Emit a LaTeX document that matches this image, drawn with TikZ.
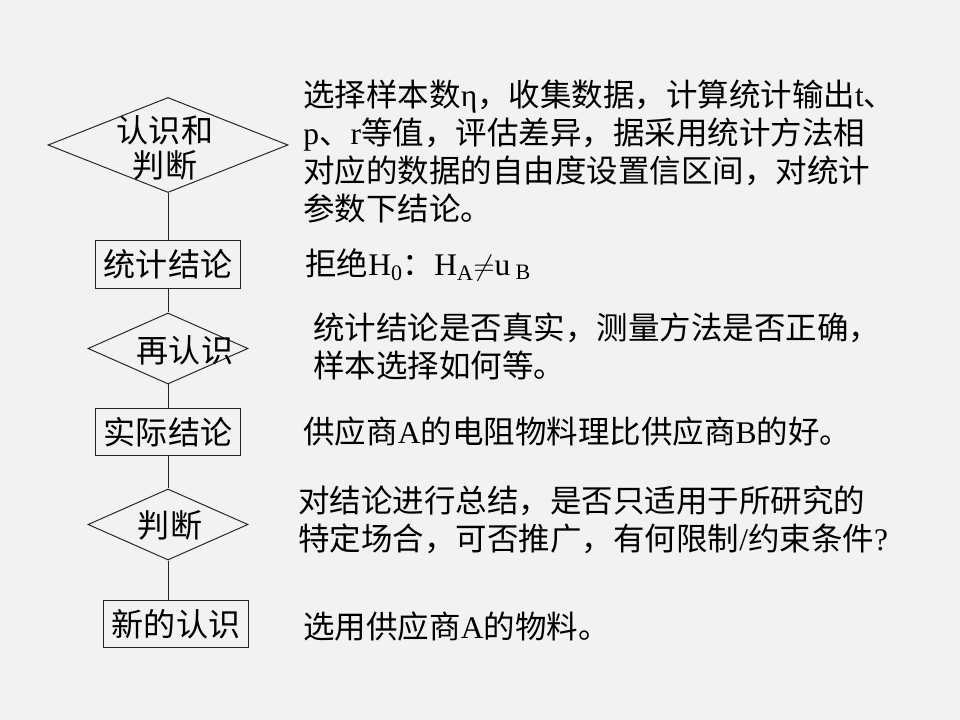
\documentclass[tikz,border=0pt]{standalone}
\usepackage{xcolor}
\usepackage{fontspec}
\setmainfont{Liberation Serif}
\newfontfamily\cjk{Noto Sans CJK SC}
\newfontfamily\latin{Liberation Serif}
\usepackage{tikz}
\usetikzlibrary{shapes.geometric,positioning}
\definecolor{bggray}{HTML}{F2F2F2}
\definecolor{inkgray}{HTML}{262626}
\newcommand{\en}[1]{{\latin #1}}

\begin{document}
\begin{tikzpicture}[
  x=0.025cm, y=-0.025cm,
  stepbox/.style={rectangle, draw=inkgray, line width=0.7pt, minimum width=3.6cm,
                  minimum height=1.18cm, inner sep=0pt,
                  font=\cjk\fontsize{22.8}{26}\selectfont},
  decision/.style={diamond, draw=inkgray, line width=0.7pt, inner sep=0pt},
  tag/.style={inner sep=0pt, align=center, font=\cjk\fontsize{22.8}{24.9}\selectfont},
  note/.style={inner sep=0pt, align=left, text=black,
               font=\cjk\fontsize{22.4}{27}\selectfont},
  link/.style={draw=inkgray, line width=0.7pt}
]
  \fill[bggray] (0,0) rectangle (960,720);

  % flow on the left
  \node[decision, minimum width=6cm, minimum height=2.375cm] (judge) at (168,145) {};
  \node[tag] (judgetxt) at (165,147.5) {认识和\\判断};
  \node[stepbox] (statres) at (168,264.5) {统计结论};
  \node[decision, minimum width=4cm, minimum height=1.775cm] (recheck) at (168,348.5) {};
  \node[tag] (rechecktxt) at (185,350) {再认识};
  \node[stepbox] (actual) at (168,432) {实际结论};
  \node[decision, minimum width=4cm, minimum height=1.775cm] (judgetwo) at (168,524.5) {};
  \node[tag] (judgetwotxt) at (170,525) {判断};
  \node[stepbox] (newview) at (176,624) {新的认识};

  \draw[link] (judge.south) -- (statres.north);
  \draw[link] (statres.south) -- (recheck.north);
  \draw[link] (recheck.south) -- (actual.north);
  \draw[link] (actual.south) -- (judgetwo.north);
  \draw[link] (judgetwo.south) -- (judgetwo.south |- newview.north);

  % notes on the right
  \node[note, anchor=north west] (sampling) at (303,80)
    {选择样本数\en{η}，收集数据，计算统计输出\en{t}、\\
     \en{p}、\en{r}等值，评估差异，据采用统计方法相\\
     对应的数据的自由度设置信区间，对统计\\
     参数下结论。};
  \node[note, anchor=west] (reject) at (305,265)
    {拒绝\en{H\textsubscript{0}}：\en{H\textsubscript{A}}$\neq$\en{u\,\textsubscript{B}}};
  \node[note, anchor=north west] (truth) at (313,313)
    {统计结论是否真实，测量方法是否正确，\\
     样本选择如何等。};
  \node[note, anchor=west] (supplier) at (303,432)
    {供应商\en{A}的电阻物料理比供应商\en{B}的好。};
  \node[note, anchor=north west] (summary) at (298,486)
    {对结论进行总结，是否只适用于所研究的\\
     特定场合，可否推广，有何限制\en{/}约束条件\en{?}};
  \node[note, anchor=west] (choice) at (303,627)
    {选用供应商\en{A}的物料。};
\end{tikzpicture}
\end{document}
